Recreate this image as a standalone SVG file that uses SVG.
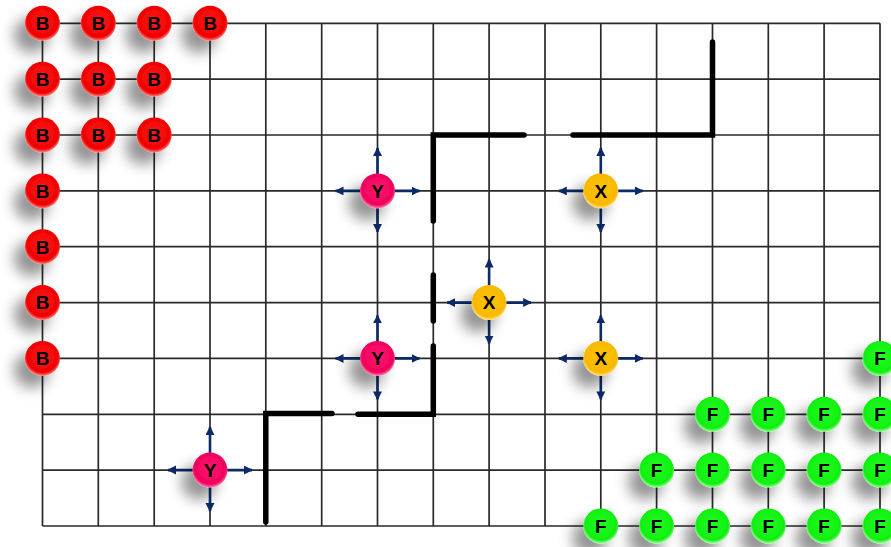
<svg xmlns="http://www.w3.org/2000/svg" width="891" height="547" viewBox="0 0 891 547">
<style>
.grid{stroke:#2a2a2a;stroke-width:1.7;fill:none}
.wall{stroke:#000;stroke-width:5.5;stroke-linecap:round;stroke-linejoin:miter;fill:none}
.arr{stroke:#0d2a68;stroke-width:2.6;marker-end:url(#ah)}
.lbl{font-family:"Liberation Sans","Open Sans",sans-serif;font-weight:bold;font-size:19px;fill:#000;text-anchor:middle}
.b circle{fill:url(#gB)}
.f circle{fill:url(#gF)}
.y circle{fill:url(#gY)}
.x circle{fill:url(#gX)}
circle{filter:url(#sh)}
</style>
<defs>
<filter id="sh" x="-120%" y="-120%" width="340%" height="340%">
<feDropShadow dx="-11" dy="12" stdDeviation="7" flood-color="#000" flood-opacity="0.42"/>
</filter>
<marker id="ah" markerUnits="userSpaceOnUse" markerWidth="10" markerHeight="10" refX="8" refY="4.5" orient="auto">
<path d="M0,0 L9,4.5 L0,9 z" fill="#0d2a68"/>
</marker>
<radialGradient id="gB" cx="50%" cy="45%" r="55%">
<stop offset="0" stop-color="#ff1a1a"/><stop offset="0.82" stop-color="#f00000"/><stop offset="1" stop-color="#ff8a8a"/>
</radialGradient>
<radialGradient id="gF" cx="50%" cy="45%" r="55%">
<stop offset="0" stop-color="#22ff22"/><stop offset="0.82" stop-color="#10ee10"/><stop offset="1" stop-color="#a0ffa0"/>
</radialGradient>
<radialGradient id="gY" cx="50%" cy="45%" r="55%">
<stop offset="0" stop-color="#ff1a70"/><stop offset="0.82" stop-color="#f0005c"/><stop offset="1" stop-color="#ff8ab4"/>
</radialGradient>
<radialGradient id="gX" cx="50%" cy="45%" r="55%">
<stop offset="0" stop-color="#ffc400"/><stop offset="0.82" stop-color="#f8b800"/><stop offset="1" stop-color="#ffe28a"/>
</radialGradient>
<g id="arrows">
<line class="arr" x1="0" y1="0" x2="42" y2="0"/>
<line class="arr" x1="0" y1="0" x2="-42" y2="0"/>
<line class="arr" x1="0" y1="0" x2="0" y2="-43"/>
<line class="arr" x1="0" y1="0" x2="0" y2="41"/>
</g>
</defs>
<rect width="891" height="547" fill="#fff"/>
<g id="grid" class="grid">
<path d="M42.5,23.3V526M98.3,23.3V526M154.2,23.3V526M210,23.3V526M265.8,23.3V526M321.7,23.3V526M377.5,23.3V526M433.3,23.3V526M489.1,23.3V526M545,23.3V526M600.8,23.3V526M656.6,23.3V526M712.5,23.3V526M768.3,23.3V526M824.1,23.3V526M880,23.3V526"/>
<path d="M42.5,23.3H880M42.5,79.2H880M42.5,135H880M42.5,190.9H880M42.5,246.7H880M42.5,302.6H880M42.5,358.4H880M42.5,414.3H880M42.5,470.1H880M42.5,526H880"/>
</g>
<g id="connectors">
<path class="wall" d="M433.3,221V135H524"/>
<path class="wall" d="M433.3,275V321"/>
<path class="wall" d="M358,414.3H433.3V346"/>
<path class="wall" d="M265.8,522V413.5H332"/>
<path class="wall" d="M573,135H712.5V42"/>
</g>
<g id="b1" class="b" transform="translate(42.5,23.3)"><circle r="17.5"/><text class="lbl" y="6.8">B</text></g>
<g id="b2" class="b" transform="translate(98.3,23.3)"><circle r="17.5"/><text class="lbl" y="6.8">B</text></g>
<g id="b3" class="b" transform="translate(154.2,23.3)"><circle r="17.5"/><text class="lbl" y="6.8">B</text></g>
<g id="b4" class="b" transform="translate(210,23.3)"><circle r="17.5"/><text class="lbl" y="6.8">B</text></g>
<g id="b5" class="b" transform="translate(42.5,79.2)"><circle r="17.5"/><text class="lbl" y="6.8">B</text></g>
<g id="b6" class="b" transform="translate(98.3,79.2)"><circle r="17.5"/><text class="lbl" y="6.8">B</text></g>
<g id="b7" class="b" transform="translate(154.2,79.2)"><circle r="17.5"/><text class="lbl" y="6.8">B</text></g>
<g id="b8" class="b" transform="translate(42.5,135)"><circle r="17.5"/><text class="lbl" y="6.8">B</text></g>
<g id="b9" class="b" transform="translate(98.3,135)"><circle r="17.5"/><text class="lbl" y="6.8">B</text></g>
<g id="b10" class="b" transform="translate(154.2,135)"><circle r="17.5"/><text class="lbl" y="6.8">B</text></g>
<g id="b11" class="b" transform="translate(42.5,190.9)"><circle r="17.5"/><text class="lbl" y="6.8">B</text></g>
<g id="b12" class="b" transform="translate(42.5,246.7)"><circle r="17.5"/><text class="lbl" y="6.8">B</text></g>
<g id="b13" class="b" transform="translate(42.5,302.6)"><circle r="17.5"/><text class="lbl" y="6.8">B</text></g>
<g id="b14" class="b" transform="translate(42.5,358.4)"><circle r="17.5"/><text class="lbl" y="6.8">B</text></g>
<g id="f1" class="f" transform="translate(880,358.4)"><circle r="17.5"/><text class="lbl" y="6.8">F</text></g>
<g id="f2" class="f" transform="translate(712.5,414.3)"><circle r="17.5"/><text class="lbl" y="6.8">F</text></g>
<g id="f3" class="f" transform="translate(768.3,414.3)"><circle r="17.5"/><text class="lbl" y="6.8">F</text></g>
<g id="f4" class="f" transform="translate(824.1,414.3)"><circle r="17.5"/><text class="lbl" y="6.8">F</text></g>
<g id="f5" class="f" transform="translate(880,414.3)"><circle r="17.5"/><text class="lbl" y="6.8">F</text></g>
<g id="f6" class="f" transform="translate(656.6,470.1)"><circle r="17.5"/><text class="lbl" y="6.8">F</text></g>
<g id="f7" class="f" transform="translate(712.5,470.1)"><circle r="17.5"/><text class="lbl" y="6.8">F</text></g>
<g id="f8" class="f" transform="translate(768.3,470.1)"><circle r="17.5"/><text class="lbl" y="6.8">F</text></g>
<g id="f9" class="f" transform="translate(824.1,470.1)"><circle r="17.5"/><text class="lbl" y="6.8">F</text></g>
<g id="f10" class="f" transform="translate(880,470.1)"><circle r="17.5"/><text class="lbl" y="6.8">F</text></g>
<g id="f11" class="f" transform="translate(600.8,526)"><circle r="17.5"/><text class="lbl" y="6.8">F</text></g>
<g id="f12" class="f" transform="translate(656.6,526)"><circle r="17.5"/><text class="lbl" y="6.8">F</text></g>
<g id="f13" class="f" transform="translate(712.5,526)"><circle r="17.5"/><text class="lbl" y="6.8">F</text></g>
<g id="f14" class="f" transform="translate(768.3,526)"><circle r="17.5"/><text class="lbl" y="6.8">F</text></g>
<g id="f15" class="f" transform="translate(824.1,526)"><circle r="17.5"/><text class="lbl" y="6.8">F</text></g>
<g id="f16" class="f" transform="translate(880,526)"><circle r="17.5"/><text class="lbl" y="6.8">F</text></g>
<g id="y1" class="y" transform="translate(377.5,190.9)"><use href="#arrows"/><circle r="17.5"/><text class="lbl" y="6.8">Y</text></g>
<g id="y2" class="y" transform="translate(377.5,358.4)"><use href="#arrows"/><circle r="17.5"/><text class="lbl" y="6.8">Y</text></g>
<g id="y3" class="y" transform="translate(210,470.1)"><use href="#arrows"/><circle r="17.5"/><text class="lbl" y="6.8">Y</text></g>
<g id="x1" class="x" transform="translate(600.8,190.9)"><use href="#arrows"/><circle r="17.5"/><text class="lbl" y="6.8">X</text></g>
<g id="x2" class="x" transform="translate(489.1,302.6)"><use href="#arrows"/><circle r="17.5"/><text class="lbl" y="6.8">X</text></g>
<g id="x3" class="x" transform="translate(600.8,358.4)"><use href="#arrows"/><circle r="17.5"/><text class="lbl" y="6.8">X</text></g>
</svg>
